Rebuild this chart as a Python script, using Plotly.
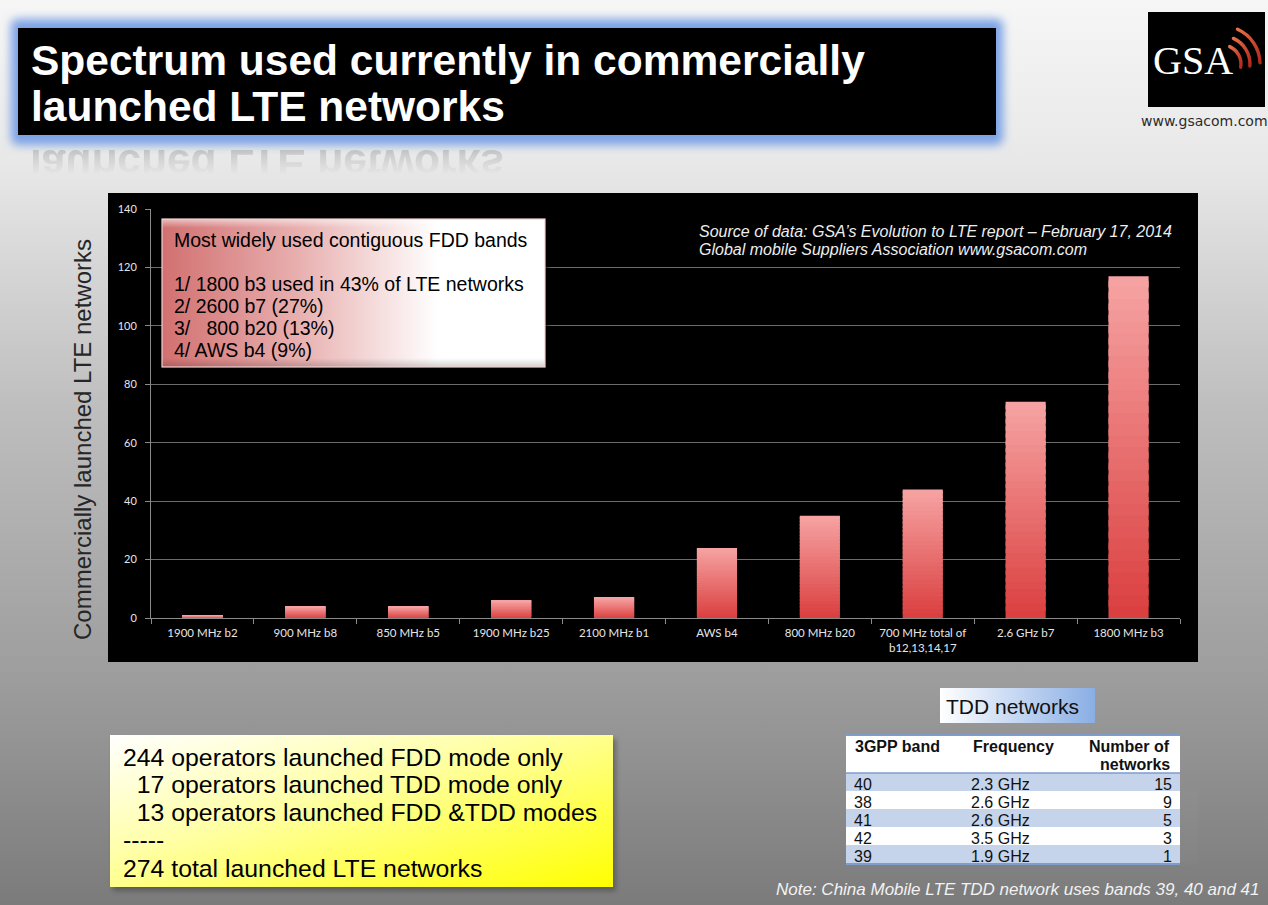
import base64
import math
import plotly.graph_objects as go

W, H = 1268, 905


def px(x):
    return x / W


def py(y):
    return 1 - y / H


# ---------------- data ----------------
categories = ["1900 MHz b2", "900 MHz b8", "850 MHz b5", "1900 MHz b25", "2100 MHz b1",
              "AWS b4", "800 MHz b20", "700 MHz total of<br>b12,13,14,17", "2.6 GHz b7", "1800 MHz b3"]
networks = [1, 4, 4, 6, 7, 24, 35, 44, 74, 117]
y_ticks = [0, 20, 40, 60, 80, 100, 120, 140]

tdd_header = ["3GPP band", "Frequency", "Number of", "networks"]
tdd_band = ["40", "38", "41", "42", "39"]
tdd_freq = ["2.3 GHz", "2.6 GHz", "2.6 GHz", "3.5 GHz", "1.9 GHz"]
tdd_count = [15, 9, 5, 3, 1]

box_lines = ["Most widely used contiguous FDD bands", "1/ 1800 b3 used in 43% of LTE networks",
             "2/ 2600 b7 (27%)", "3/\u00a0\u00a0\u00a0800 b20 (13%)", "4/ AWS b4 (9%)"]
op_lines = ["244 operators launched FDD mode only", "\u00a0\u00a017 operators launched TDD mode only",
            "\u00a0\u00a013 operators launched FDD &TDD modes", "-----", "274 total launched LTE networks"]


def svg_uri(svg):
    return "data:image/svg+xml;base64," + base64.b64encode(svg.encode("utf-8")).decode()


# ---------------- background decoration (svg) ----------------
arcs = ""
for r, a_start, a_end in ((19, -66, 10), (28, -66, 4), (38, -66, -2)):
    a0, a1 = math.radians(a_start), math.radians(a_end)
    cx, cy = 1222, 64
    x0, y0 = cx + r * math.cos(a0), cy + r * math.sin(a0)
    x1, y1 = cx + r * math.cos(a1), cy + r * math.sin(a1)
    arcs += (f'<path d="M{x0:.1f},{y0:.1f} A{r},{r} 0 0 1 {x1:.1f},{y1:.1f}" '
             f'stroke="url(#arc)" stroke-width="3.4" stroke-linecap="round" fill="none"/>')

bg_svg = f'''<svg xmlns="http://www.w3.org/2000/svg" width="{W}" height="{H}" viewBox="0 0 {W} {H}" preserveAspectRatio="none">
<defs>
<linearGradient id="bg" x1="0" y1="0" x2="0" y2="1">
<stop offset="0" stop-color="#f6f6f6"/><stop offset="0.18" stop-color="#e8e8e8"/>
<stop offset="0.45" stop-color="#bebebe"/><stop offset="0.75" stop-color="#9d9d9d"/><stop offset="1" stop-color="#7b7b7b"/>
</linearGradient>
<linearGradient id="yel" x1="0" y1="0" x2="1" y2="1">
<stop offset="0" stop-color="#ffffff"/><stop offset="0.4" stop-color="#ffffa8"/><stop offset="1" stop-color="#ffff00"/>
</linearGradient>
<linearGradient id="tdd" x1="0" y1="0" x2="1" y2="0">
<stop offset="0" stop-color="#ffffff"/><stop offset="1" stop-color="#8aaee4"/>
</linearGradient>
<linearGradient id="arc" x1="0" y1="0" x2="1" y2="1">
<stop offset="0" stop-color="#e8704a"/><stop offset="1" stop-color="#b02a1c"/>
</linearGradient>
<linearGradient id="fade" x1="0" y1="0" x2="0" y2="1">
<stop offset="0" stop-color="#fff" stop-opacity="0.6"/><stop offset="1" stop-color="#fff" stop-opacity="0"/>
</linearGradient>
<mask id="m" maskUnits="userSpaceOnUse" x="0" y="0" width="{W}" height="{H}">
<rect x="0" y="146" width="{W}" height="28" fill="url(#fade)"/></mask>
<filter id="blur" x="-10%" y="-40%" width="120%" height="180%"><feGaussianBlur stdDeviation="5"/></filter>
<filter id="sh" x="-5%" y="-5%" width="110%" height="115%"><feGaussianBlur stdDeviation="2.5"/></filter>
</defs>
<rect width="{W}" height="{H}" fill="url(#bg)"/>
<rect x="11" y="19" width="992" height="126" rx="6" fill="#7aa2e6" filter="url(#blur)"/>
<rect x="18" y="28" width="978" height="107" fill="#000"/>
<g mask="url(#m)"><g transform="translate(0,269) scale(1,-1)">
<text x="30" y="119" font-family="Liberation Sans, Arial" font-weight="bold" font-size="42.5" fill="#a4a4a4">launched LTE networks</text>
</g></g>
<rect x="1148" y="12" width="117" height="95" fill="#000"/>
{arcs}
<rect x="108" y="193" width="1090" height="469" fill="#000"/>
<rect x="113" y="739" width="503" height="152" fill="#333" opacity="0.45" filter="url(#sh)"/>
<rect x="110" y="735" width="503" height="152" fill="url(#yel)"/>
<rect x="940" y="688" width="155" height="35" fill="url(#tdd)"/>
<rect x="846" y="735" width="334" height="130" fill="#ffffff"/>
</svg>'''

pink_svg = '''<svg xmlns="http://www.w3.org/2000/svg" width="392" height="158" viewBox="0 0 392 158" preserveAspectRatio="none">
<defs>
<linearGradient id="p" x1="0" y1="0" x2="1" y2="0">
<stop offset="0" stop-color="#d27070"/><stop offset="0.35" stop-color="#e8aeae"/>
<stop offset="0.72" stop-color="#ffffff"/><stop offset="1" stop-color="#ffffff"/>
</linearGradient>
<linearGradient id="edge" x1="0" y1="0" x2="0" y2="1">
<stop offset="0" stop-color="#fff" stop-opacity="0.55"/><stop offset="0.06" stop-color="#fff" stop-opacity="0"/>
<stop offset="0.94" stop-color="#000" stop-opacity="0"/><stop offset="1" stop-color="#000" stop-opacity="0.18"/>
</linearGradient>
<filter id="s" x="-5%" y="-5%" width="110%" height="115%"><feGaussianBlur stdDeviation="2"/></filter>
</defs>
<rect x="6" y="7" width="383" height="148" fill="#000" opacity="0.65" filter="url(#s)"/>
<rect x="3" y="3" width="383" height="148" fill="url(#p)"/>
<rect x="3" y="3" width="383" height="148" fill="url(#edge)" stroke="#f1d2d2" stroke-width="1.2"/>
</svg>'''

# ---------------- figure ----------------
fig = go.Figure()

# bars with a vertical gradient: stacked slices derived from each value
N = 30
bot = (0xdb, 0x40, 0x40)
top = (0xf6, 0xa2, 0xa2)
for k in range(N):
    t = k / (N - 1)
    col = tuple(round(bot[i] + (top[i] - bot[i]) * t) for i in range(3))
    frac = min(1.6 / N, (N - k) / N)
    fig.add_trace(go.Bar(
        x=categories,
        y=[v * frac for v in networks],
        base=[v * k / N for v in networks],
        marker=dict(color="rgb(%d,%d,%d)" % col, line=dict(width=0)),
        width=0.39, hoverinfo="skip", showlegend=False,
    ))

# TDD table: a striped table layer (row fills) and a text layer on top of it.
# The first data row is used as each table's header row; the two-line column
# titles are written as text above.
row_fill = ["#c5d4ea", "#ffffff", "#c5d4ea", "#ffffff", "#c5d4ea"]
tfont = dict(family="Liberation Sans, Arial", size=16, color="#111")
ROW_H = 18
blank = [""] * (len(tdd_band) - 1)
fig.add_trace(go.Table(
    domain=dict(x=[px(846), px(1180)], y=[py(866), py(773)]),
    columnwidth=[117, 118, 99],
    header=dict(values=["", "", ""], fill_color=row_fill[0],
                line=dict(width=0, color=row_fill[0]), font=tfont, height=ROW_H),
    cells=dict(values=[blank, blank, blank], fill_color=[row_fill[1:]] * 3,
               line=dict(width=0, color="#ffffff"), font=tfont, height=ROW_H),
))
fig.add_trace(go.Table(
    domain=dict(x=[px(846), px(1180)], y=[py(863), py(769.5)]),
    columnwidth=[117, 118, 99],
    header=dict(
        values=[tdd_band[0], tdd_freq[0], tdd_count[0]],
        align=["left", "left", "right"],
        fill_color="rgba(0,0,0,0)",
        line=dict(width=0, color="rgba(0,0,0,0)"),
        font=tfont, height=ROW_H,
    ),
    cells=dict(
        values=[tdd_band[1:], tdd_freq[1:], tdd_count[1:]],
        align=["left", "left", "right"],
        fill_color="rgba(0,0,0,0)",
        line=dict(width=0, color="rgba(0,0,0,0)"),
        font=tfont, height=ROW_H,
    ),
))

ann = []


def text(x, y, s, size, color="#000", family="Liberation Sans, Arial", xanchor="left", yanchor="middle", angle=0):
    ann.append(dict(x=px(x), y=py(y), xref="paper", yref="paper", text=s, showarrow=False,
                    xanchor=xanchor, yanchor=yanchor, textangle=angle,
                    font=dict(size=size, color=color, family=family)))


text(29, 61, "<b>Spectrum used currently in commercially</b>", 42.5, "#ffffff")
text(29, 106, "<b>launched LTE networks</b>", 42.5, "#ffffff")
text(1193, 61, "GSA", 40, "#ffffff", family="Liberation Serif, Times New Roman", xanchor="center")
text(1204, 121, "www.gsacom.com", 14, "#2b2b2b", family="DejaVu Sans, Verdana", xanchor="center")
text(82, 440, "Commercially launched LTE networks", 24, "#262626", xanchor="center", angle=-90)
text(697, 231, "<i>Source of data: GSA\u2019s Evolution to LTE report \u2013 February 17, 2014</i>", 16, "#eeeeee")
text(697, 250, "<i>Global mobile Suppliers Association www.gsacom.com</i>", 16, "#eeeeee")
box_y = [240, 284, 306, 328, 350]
for s, yy in zip(box_lines, box_y):
    text(172, yy, s, 19.5, "#000")
op_y = [757, 784, 812, 839, 868]
for s, yy in zip(op_lines, op_y):
    text(121, yy, s, 24.8, "#000")
text(1012, 706, "TDD networks", 21, "#111", xanchor="center")
text(853, 746, "<b>" + tdd_header[0] + "</b>", 16, "#111")
text(971, 746, "<b>" + tdd_header[1] + "</b>", 16, "#111")
text(1172, 746, "<b>" + tdd_header[2] + "</b>", 16, "#111", xanchor="right")
text(1172, 764, "<b>" + tdd_header[3] + "</b>", 16, "#111", xanchor="right")
text(1262, 889, "<i>Note: China Mobile LTE TDD network uses bands 39, 40 and 41</i>", 17, "#f2f2f2",
     xanchor="right")

shapes = [
    dict(type="line", xref="paper", yref="paper", x0=px(846), x1=px(1180), y0=py(735), y1=py(735),
         line=dict(color="#7f9ccc", width=2)),
    dict(type="line", xref="paper", yref="paper", x0=px(846), x1=px(1180), y0=py(773), y1=py(773),
         line=dict(color="#7f9ccc", width=1.5)),
    dict(type="line", xref="paper", yref="paper", x0=px(846), x1=px(1180), y0=py(864), y1=py(864),
         line=dict(color="#7f9ccc", width=2)),
]

fig.update_layout(
    width=W, height=H,
    autosize=False,
    margin=dict(l=0, r=0, t=0, b=0, pad=0, autoexpand=False),
    paper_bgcolor="#c0c0c0",
    plot_bgcolor="#404040",
    barmode="overlay",
    showlegend=False,
    font=dict(family="Liberation Sans, Arial"),
    images=[
        dict(source=svg_uri(bg_svg), xref="paper", yref="paper", x=0, y=1, sizex=1, sizey=1,
             xanchor="left", yanchor="top", sizing="stretch", layer="below"),
        dict(source=svg_uri(pink_svg), xref="paper", yref="paper", x=px(159), y=py(216),
             sizex=392 / W, sizey=158 / H, xanchor="left", yanchor="top", sizing="stretch", layer="above"),
    ],
    annotations=ann,
    shapes=shapes,
    xaxis=dict(
        domain=[px(151), px(1180)],
        range=[-0.5, len(categories) - 0.5],
        showgrid=False, zeroline=False,
        showline=True, linecolor="#8a8a8a", linewidth=1,
        ticks="outside", tickson="boundaries", ticklen=5, tickcolor="#8a8a8a",
        ticklabelstandoff=4,
        tickfont=dict(family="Lato, Open Sans", size=11.5, color="#e6e6e6"),
        fixedrange=True,
    ),
    yaxis=dict(
        domain=[py(618), py(209)],
        range=[0, 140],
        tickvals=y_ticks,
        showgrid=True, gridcolor="#6c6c6c", gridwidth=1,
        zeroline=False,
        showline=True, linecolor="#8a8a8a", linewidth=1,
        ticks="outside", ticklen=5, tickcolor="#8a8a8a",
        ticklabelstandoff=6,
        tickfont=dict(family="Lato, Open Sans", size=11, color="#e6e6e6"),
        fixedrange=True,
    ),
)

fig.write_html("out.html", config={"displayModeBar": False})
